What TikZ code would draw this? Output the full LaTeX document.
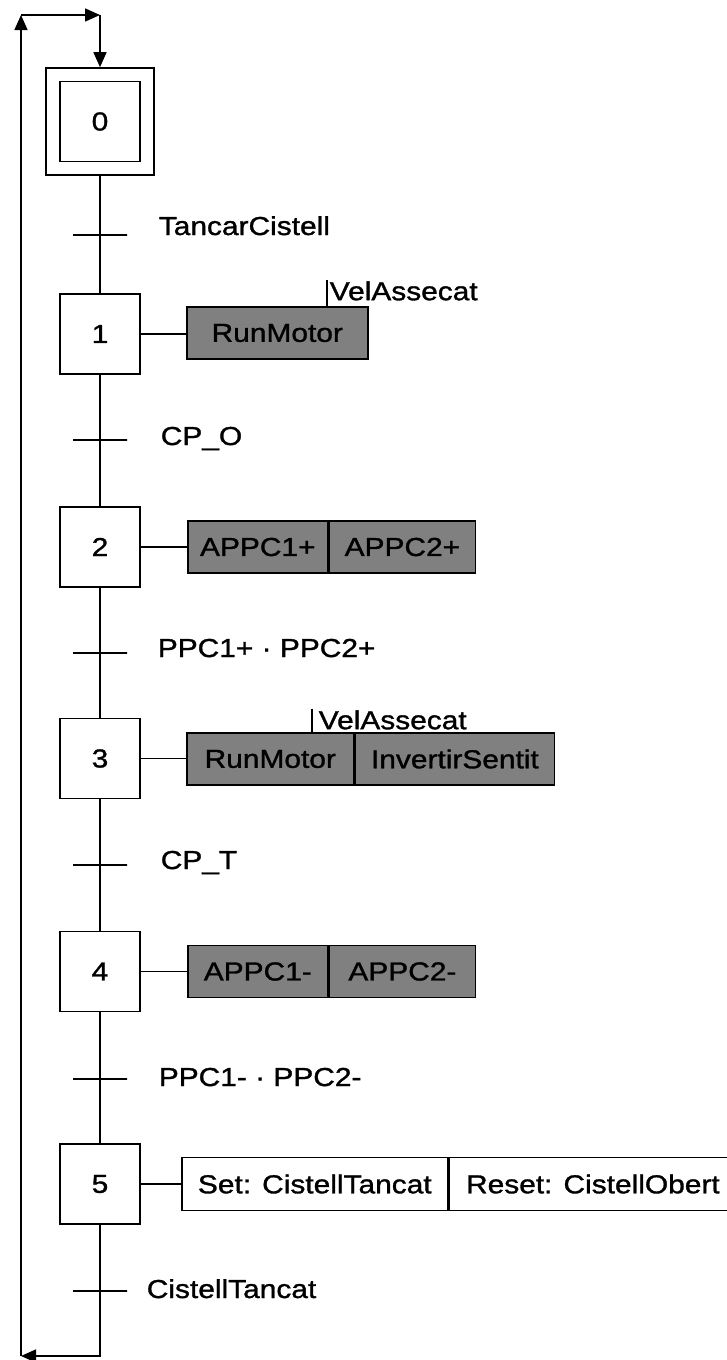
\documentclass[tikz,border=0pt]{standalone}
\usepackage{fontspec}
\setmainfont{Liberation Sans}[FakeStretch=1.15,FakeBold=1.2]
\usetikzlibrary{arrows.meta,calc}
\definecolor{actgray}{RGB}{128,128,128}
\begin{document}
\begin{tikzpicture}[x=1pt,y=-1pt,line width=1.6pt,
  >={Triangle[length=15pt,width=13pt]},
  every node/.style={font=\fontsize{26}{30}\selectfont},
  stepbox/.style={draw,minimum width=80pt,minimum height=80pt,inner sep=0pt},
  outerbox/.style={draw,minimum width=108pt,minimum height=107pt,inner sep=0pt},
  actbox/.style={draw,fill=actgray,minimum height=52pt,inner sep=0pt},
  setbox/.style={draw,fill=white,minimum height=53pt,inner sep=0pt},
  tickmark/.style={draw,minimum width=54pt,minimum height=0pt,inner sep=0pt},
  translabel/.style={anchor=base west,inner sep=0pt},
  condlabel/.style={anchor=base west,inner xsep=2pt,inner ysep=0pt}
]
\useasboundingbox (0,0) rectangle (726,1360);

% steps
\node[outerbox] (s0o) at (100,121.5) {};
\node[stepbox] (s0) at (100,121.5) {0};
\node[stepbox] (s1) at (100,334) {1};
\node[stepbox] (s2) at (100,547) {2};
\node[stepbox] (s3) at (100,758.5) {3};
\node[stepbox] (s4) at (100,971.5) {4};
\node[stepbox] (s5) at (100,1184) {5};

% transitions
\node[tickmark] (t1) at (100,235) {};
\node[tickmark] (t2) at (100,440) {};
\node[tickmark] (t3) at (100,653) {};
\node[tickmark] (t4) at (100,865) {};
\node[tickmark] (t5) at (100,1079) {};
\node[tickmark] (t6) at (100,1291) {};

\node[translabel] (l1) at (158,235) {TancarCistell};
\node[translabel] (l2) at (160,445) {CP\_O};
\node[translabel] (l3) at (157,657) {PPC1+ · PPC2+};
\node[translabel] (l4) at (160,869) {CP\_T};
\node[translabel] (l5) at (158,1086) {PPC1- · PPC2-};
\node[translabel] (l6) at (146,1298) {CistellTancat};

% vertical links
\draw (s0o.south) -- (s1.north);
\draw (s1.south) -- (s2.north);
\draw (s2.south) -- (s3.north);
\draw (s3.south) -- (s4.north);
\draw (s4.south) -- (s5.north);

% actions
\node[actbox,anchor=west,minimum width=181pt] (a1) at (186,333) {RunMotor};
\draw (s1.east) -- (s1.east -| a1.west);
\coordinate (v1b) at ($(a1.north west)+(141,0)$);
\coordinate (v1t) at ($(v1b)+(0,-26)$);
\draw[line width=1.2pt] (v1b) -- (v1t);
\node[condlabel] (c1) at ($(v1t)+(0,20)$) {VelAssecat};

\node[actbox,anchor=west,minimum width=140pt] (a2a) at (187,547) {APPC1+};
\node[actbox,anchor=west,minimum width=146pt] (a2b) at (a2a.east) {APPC2+};
\draw (s2.east) -- (a2a.west);

\node[actbox,anchor=west,minimum width=167pt] (a3a) at (186,759) {RunMotor};
\node[actbox,anchor=west,minimum width=199pt] (a3b) at (a3a.east) {InvertirSentit};
\draw (s3.east) -- (s3.east -| a3a.west);
\coordinate (v3b) at ($(a3a.north west)+(126,0)$);
\coordinate (v3t) at ($(v3b)+(0,-23)$);
\draw[line width=1.2pt] (v3b) -- (v3t);
\node[condlabel] (c3) at ($(v3t)+(4,20)$) {VelAssecat};

\node[actbox,anchor=west,minimum width=140pt] (a4a) at (187,971.5) {APPC1-};
\node[actbox,anchor=west,minimum width=146pt] (a4b) at (a4a.east) {APPC2-};
\draw (s4.east) -- (a4a.west);

\node[setbox,anchor=west,minimum width=266pt] (a5a) at (181,1184) {Set: CistellTancat};
\node[setbox,anchor=west,minimum width=287pt] (a5b) at (a5a.east) {Reset: CistellObert};
\draw (s5.east) -- (a5a.west);

% return loop
\coordinate (b) at (100,1356);
\coordinate (bl) at (21,1356);
\coordinate (tl) at (21,15);
\coordinate (tr) at (100,15);
\draw[->] (s5.south) -- (b) -- (bl);
\draw[->] (bl) -- (tl);
\draw[->] (tl) -- (tr);
\draw[->] (tr) -- (s0o.north);
\end{tikzpicture}
\end{document}
